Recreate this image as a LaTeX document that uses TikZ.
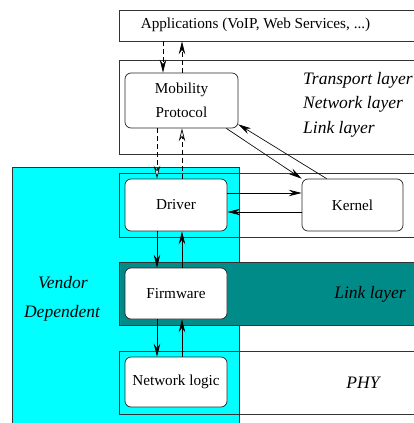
\documentclass[tikz,border=0pt]{standalone}
\usepackage{fontspec}
\setmainfont{Liberation Serif}
\usetikzlibrary{arrows.meta}
\definecolor{vendorcyan}{RGB}{0,255,255}
\definecolor{linkteal}{RGB}{0,139,137}
\begin{document}
\begin{tikzpicture}[x=1pt,y=-1pt,
  txt/.style={font=\fontsize{15.2}{18}\selectfont, inner sep=0pt},
  lbl/.style={font=\fontsize{17.5}{21}\selectfont\itshape, inner sep=0pt},
  layer/.style={draw=black!80, line width=0.7pt, rectangle, inner sep=0pt},
  unit/.style={draw=black!85, fill=white, line width=0.7pt, rounded corners=6pt,
    inner sep=0pt, font=\fontsize{15.2}{18}\selectfont, align=center},
  tip/.style={-{Stealth[length=13pt,width=6.5pt,inset=4.5pt]}},
  otip/.style={-{Stealth[length=13pt,width=6.5pt,inset=4.5pt,open,fill=white]}},
  dsh/.style={dash pattern=on 5pt off 3pt},
  wire/.style={line width=0.65pt, black}]
\clip (0,0) rectangle (414,423);

% vendor dependent region
\fill[vendorcyan, draw=black!80, line width=0.7pt] (12,167) rectangle (239,430);

% protocol layers
\node[layer, minimum width=301pt, minimum height=31pt] (apps) at (269.5,25.5) {};
\node[layer, minimum width=301pt, minimum height=94pt] (tnl) at (269.5,107) {};
\node[layer, minimum width=301pt, minimum height=64pt] (drvl) at (269.5,205) {};
\node[layer, fill=linkteal, minimum width=301pt, minimum height=63pt] (linkl) at (269.5,293.5) {};
\node[layer, minimum width=301pt, minimum height=63pt] (phyl) at (269.5,382.5) {};

% layer labels
\node[txt] (appstext) at (255.5,25) {Applications (VoIP, Web Services, ...)};
\node[lbl, anchor=base west] (ltrans) at (303,84) {Transport layer};
\node[lbl, anchor=base west] (lnet) at (303,108.5) {Network layer};
\node[lbl, anchor=base west] (llink) at (303,133) {Link layer};
\node[lbl] (llink2) at (370,294) {Link layer};
\node[lbl] (lphy) at (363,383) {PHY};
\node[lbl] (lvendor) at (63,283) {Vendor};
\node[lbl] (ldep) at (62,313) {Dependent};

% functional units
\node[unit, minimum width=113pt, minimum height=55pt,
  font=\fontsize{15.2}{24}\selectfont] (mob) at (181.5,100.5) {Mobility\\Protocol};
\node[unit, minimum width=102pt, minimum height=52pt] (drv) at (176,205) {Driver};
\node[unit, minimum width=101pt, minimum height=52pt] (krn) at (352.5,205) {Kernel};
\node[unit, minimum width=102pt, minimum height=51pt] (fw) at (176,293.5) {Firmware};
\node[unit, minimum width=102pt, minimum height=50pt] (nl) at (176,382) {Network logic};

% x positions of the vertical links
\coordinate (xa) at (163,0);
\coordinate (xb) at (157,0);
\coordinate (xc) at (182,0);

% dashed links through the mobility protocol
\draw[wire, dsh, tip] (apps.south -| xa) -- (mob.north -| xa);
\draw[wire, dsh, tip] (mob.north -| xc) -- (apps.south -| xc);
\draw[wire, dsh, otip] (mob.south -| xb) -- (drv.north -| xb);
\draw[wire, dsh, otip] (drv.north -| xc) -- (mob.south -| xc);

% kernel links
\draw[wire, tip] ([xshift=-12pt]mob.south east) -- (krn.north west);
\draw[wire, tip] ([xshift=25pt]krn.north west) -- ([yshift=4pt]mob.south east);
\draw[wire, tip] ([yshift=12pt]drv.east) -- ([yshift=12pt]krn.west);
\draw[wire, tip] ([yshift=-7pt]krn.west) -- ([yshift=-7pt]drv.east);

% driver / firmware / network logic
\draw[wire, tip] (drv.south -| xb) -- (fw.north -| xb);
\draw[wire, tip] (fw.north -| xc) -- (drv.south -| xc);
\draw[wire, tip] (fw.south -| xb) -- (nl.north -| xb);
\draw[wire, tip] (nl.north -| xc) -- (fw.south -| xc);
\end{tikzpicture}
\end{document}
